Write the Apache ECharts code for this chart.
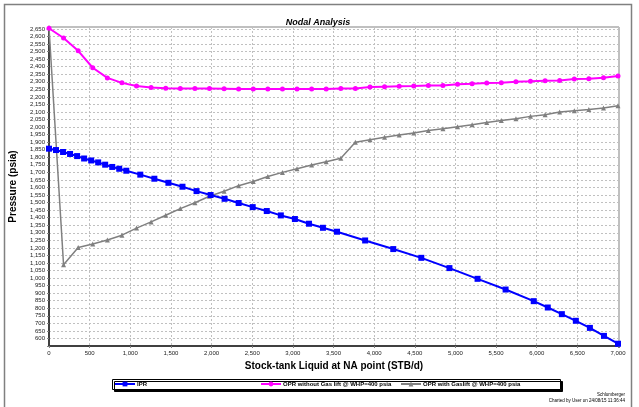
<!DOCTYPE html>
<html>
<head>
<meta charset="utf-8">
<script src="https://cdn.jsdelivr.net/npm/echarts@6/dist/echarts.min.js"></script>
<style>
  html, body { margin: 0; padding: 0; background: #fff; }
  #main { width: 639px; height: 407px; }
</style>
</head>
<body>
<div id="main"></div>
<script>
// IPR rates (STB/d) and pressures (psia)
const iprRate = [0, 86, 173, 259, 346, 432, 519, 605, 691, 778, 864, 951,
  1123, 1296, 1469, 1642, 1815, 1988, 2160, 2333, 2506, 2679, 2852, 3025, 3198, 3370, 3543,
  3889, 4235, 4580, 4926, 5272, 5617, 5963,
  6136, 6309, 6481, 6654, 6827, 7000];
const iprPres = [1857, 1848, 1835, 1822, 1808, 1792, 1779, 1766, 1751, 1736, 1724, 1711,
  1685, 1658, 1631, 1605, 1576, 1550, 1525, 1497, 1470, 1444, 1415, 1391, 1360, 1333, 1307,
  1249, 1192, 1134, 1066, 995, 924, 847,
  805, 761, 717, 670, 617, 565];

// OPR rates (same for both outflow curves)
const oprRate = [0, 179, 359, 538, 718, 897, 1077, 1256, 1436, 1615, 1795, 1974, 2154, 2333,
  2513, 2692, 2872, 3051, 3231, 3410, 3590, 3769, 3949, 4128, 4308, 4487, 4667, 4846, 5026,
  5205, 5385, 5564, 5744, 5923, 6103, 6282, 6462, 6641, 6821, 7000];
const oprNoLift = [2655, 2590, 2505, 2393, 2326, 2293, 2272, 2262, 2257, 2255, 2255, 2255, 2254, 2253,
  2252, 2252, 2252, 2252, 2252, 2252, 2256, 2256, 2266, 2268, 2270, 2272, 2275, 2276, 2283,
  2287, 2292, 2294, 2301, 2303, 2307, 2309, 2319, 2321, 2327, 2338];
const oprGasLift = [2660, 1088, 1202, 1226, 1252, 1284, 1331, 1372, 1416, 1460, 1499, 1542, 1575, 1612,
  1640, 1673, 1700, 1724, 1749, 1771, 1793, 1899, 1916, 1932, 1948, 1961, 1978, 1989, 2003,
  2016, 2031, 2044, 2056, 2071, 2082, 2100, 2109, 2117, 2126, 2142];

const seriesNames = ['IPR', 'OPR without Gas lift @ WHP=400 psia', 'OPR with Gaslift @ WHP=400 psia'];

const pair = (xs, ys) => xs.map((x, i) => [x, ys[i]]);
const fmt = (step) => (v) => (v % step === 0 && v >= 0 ? v.toLocaleString('en-US') : '');
const font = 'Liberation Sans, Arial, sans-serif';

const chart = echarts.init(document.getElementById('main'));
chart.setOption({
  animation: false,
  backgroundColor: '#fff',
  textStyle: { fontFamily: font },
  title: {
    text: 'Nodal Analysis',
    left: 313, top: 13, textAlign: 'center',
    textStyle: { fontSize: 9, fontWeight: 'bold', fontStyle: 'italic', color: '#000' }
  },
  grid: {
    left: 44, right: 20, top: 27, bottom: 61,
    show: true, borderColor: '#808080', borderWidth: 1
  },
  xAxis: {
    type: 'value', min: 0, max: 7012, interval: 500,
    name: 'Stock-tank Liquid at NA point (STB/d)',
    nameLocation: 'middle', nameGap: 11,
    nameTextStyle: { fontSize: 10, fontWeight: 'bold', color: '#000' },
    axisLine: { show: true, lineStyle: { color: '#404040', width: 2 } },
    axisTick: { show: true, length: 2, lineStyle: { color: '#808080' } },
    axisLabel: { fontSize: 6, color: '#222', margin: 4, formatter: fmt(500) },
    splitLine: { show: true, lineStyle: { color: '#c0c0c0', type: [2, 2], width: 1 } }
  },
  yAxis: {
    type: 'value', min: 550, max: 2663, interval: 50,
    name: 'Pressure (psia)',
    nameLocation: 'middle', nameGap: 31, nameRotate: 90,
    nameTextStyle: { fontSize: 10, fontWeight: 'bold', color: '#000' },
    axisLine: { show: true, lineStyle: { color: '#404040', width: 2 } },
    axisTick: { show: true, length: 2, lineStyle: { color: '#808080' } },
    axisLabel: { fontSize: 6, color: '#222', margin: 4, formatter: (v) => (v >= 600 ? fmt(50)(v) : '') },
    splitLine: { show: true, lineStyle: { color: '#c0c0c0', type: [2, 2], width: 1 } }
  },
  legend: [
    { data: [seriesNames[0]], left: 114, top: 381 },
    { data: [seriesNames[1]], left: 260, top: 381 },
    { data: [seriesNames[2]], left: 400, top: 381 }
  ].map(l => Object.assign(l, {
    itemWidth: 20, itemHeight: 6, padding: 0, itemGap: 2,
    textStyle: { fontSize: 6, fontWeight: 'bold', color: '#000', padding: [0, 0, 0, -3] }
  })),
  graphic: [
    { type: 'rect', left: 2, top: 2, shape: { width: 627, height: 404 }, style: { fill: null, stroke: '#808080', lineWidth: 1.5 }, silent: true },
    { type: 'rect', left: 112, top: 379, shape: { width: 448, height: 10 },
      style: { fill: '#fff', stroke: '#000', lineWidth: 1, shadowColor: '#000', shadowOffsetX: 2, shadowOffsetY: 2 }, z: -1, silent: true },
    { type: 'text', right: 14, top: 392, style: { text: 'Schlumberger', fontSize: 4.5, fill: '#000', fontFamily: font, align: 'right' } },
    { type: 'text', right: 14, top: 398, style: { text: 'Charted by User on 24/08/15 11:36:44', fontSize: 4.5, fill: '#000', fontFamily: font, align: 'right' } }
  ],
  series: [
    {
      name: seriesNames[0], type: 'line', data: pair(iprRate, iprPres),
      symbol: 'rect', symbolSize: 6, color: '#0000ff',
      lineStyle: { width: 2, color: '#0000ff' }, z: 3
    },
    {
      name: seriesNames[1], type: 'line', data: pair(oprRate, oprNoLift),
      symbol: 'circle', symbolSize: 5, color: '#ff00ff',
      lineStyle: { width: 2, color: '#ff00ff' }, z: 2
    },
    {
      name: seriesNames[2], type: 'line', data: pair(oprRate, oprGasLift),
      symbol: 'triangle', symbolSize: 5, color: '#808080',
      lineStyle: { width: 1.5, color: '#808080' }, z: 1
    }
  ]
});
</script>
</body>
</html>
